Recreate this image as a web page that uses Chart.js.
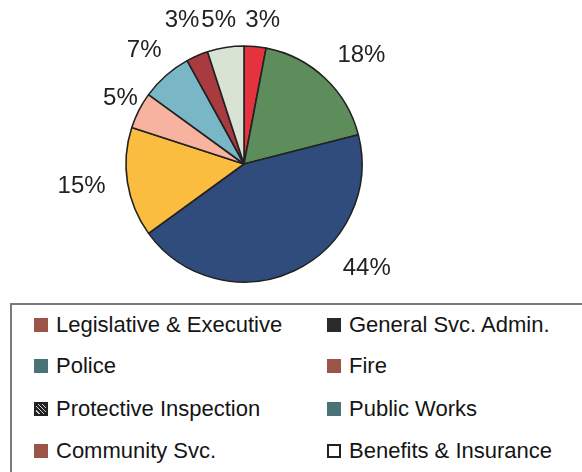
<!DOCTYPE html>
<html>
<head>
<meta charset="utf-8">
<script src="https://cdn.jsdelivr.net/npm/chart.js@4/dist/chart.umd.min.js"></script>
<style>
  html, body { margin: 0; padding: 0; background: #fff; }
  body { width: 582px; height: 472px; position: relative; overflow: hidden; font-family: "Liberation Sans", Arial, sans-serif; }
  #pie-wrap { position: absolute; left: 0; top: 0; width: 582px; height: 300px; }
  #legend {
    position: absolute; left: 10px; top: 303px; width: 600px; height: 200px;
    border-left: 2px solid #7a7a7a; border-top: 2px solid #7a7a7a;
  }
  .item { position: absolute; font-size: 22px; color: #151515; line-height: 24px; white-space: nowrap; }
  .item .box { position: absolute; left: 0; top: 5px; width: 14px; height: 14px; box-sizing: border-box; }
  .item .txt { position: absolute; left: 22px; top: 0; }
</style>
</head>
<body>
<div id="pie-wrap"><canvas id="pie" width="582" height="300"></canvas></div>
<div id="legend"></div>
<script>
// Budget share by department (percent)
const departments = [
    'Legislative & Executive',
    'General Svc. Admin.',
    'Police',
    'Fire',
    'Protective Inspection',
    'Public Works',
    'Community Svc.',
    'Benefits & Insurance'
];
const shares = [3, 18, 44, 15, 5, 7, 3, 5];

// slice fills
const sliceColors = ['#e5323e', '#5e8d5c', '#2f4c7c', '#fbbd3f', '#f8b3a0', '#79b7c6', '#a93a3f', '#d9e3d4'];

// legend swatches as printed
const swatchStyles = [
    'background:#9b5447',
    'background:#2a2a2a',
    'background:#4b7377',
    'background:#9b5447',
    'border:2px solid #222;background:repeating-linear-gradient(45deg,#222 0 2px,#cfcfcf 2px 3px)',
    'background:#4b7377',
    'background:#9b5447',
    'border:2px solid #222;background:#fff'
];

// percent labels: distance beyond the rim and angular nudge (degrees)
const labelPad = [27, 42, 43, 46, 22, 33, 38, 28];
const labelTurn = [2, 4, -24.5, 1, 1, 0, 0, -1];

const pctLabels = {
    id: 'pctLabels',
    afterDatasetsDraw(chart) {
        const ctx = chart.ctx;
        const meta = chart.getDatasetMeta(0);
        ctx.save();
        ctx.font = '24px "Liberation Sans", Arial, sans-serif';
        ctx.fillStyle = '#222';
        ctx.textAlign = 'center';
        ctx.textBaseline = 'middle';
        meta.data.forEach((arc, i) => {
            const p = arc.getProps(['x', 'y', 'startAngle', 'endAngle', 'outerRadius'], true);
            const a = (p.startAngle + p.endAngle) / 2 + labelTurn[i] * Math.PI / 180;
            const r = p.outerRadius + labelPad[i];
            ctx.fillText(shares[i] + '%', p.x + Math.cos(a) * r, p.y + Math.sin(a) * r);
        });
        ctx.restore();
    }
};

const chart = new Chart(document.getElementById('pie').getContext('2d'), {
    type: 'pie',
    data: {
        labels: departments,
        datasets: [{
            data: shares,
            backgroundColor: sliceColors,
            borderColor: '#222',
            borderWidth: 1.6,
            radius: 118
        }]
    },
    options: {
        responsive: false,
        animation: false,
        layout: { padding: { left: 0, right: 94, top: 28, bottom: 0 } },
        plugins: {
            legend: { display: false },
            tooltip: { enabled: false }
        }
    },
    plugins: [pctLabels]
});

// two-column legend under the pie
const legend = document.getElementById('legend');
const colX = [22, 315];
const rowY = [8, 49, 92, 134];
departments.forEach((name, i) => {
    const el = document.createElement('div');
    el.className = 'item';
    el.style.left = colX[i % 2] + 'px';
    el.style.top = rowY[Math.floor(i / 2)] + 'px';
    el.innerHTML = '<span class="box" style="' + swatchStyles[i] + '"></span><span class="txt">' +
        name.replace(/&/g, '&amp;') + '</span>';
    legend.appendChild(el);
});
</script>
</body>
</html>
